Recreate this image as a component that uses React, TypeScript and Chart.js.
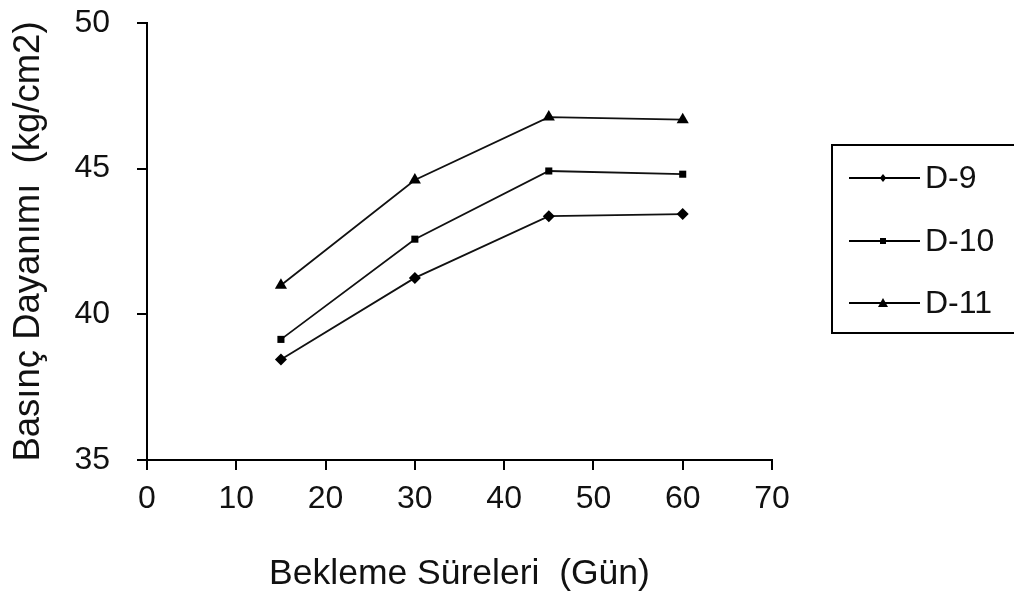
import React, { useEffect, useRef } from "react";
import { Chart, registerables } from "chart.js";

Chart.register(...registerables);

// Curing time (days) and compressive strength values for each mix
const days = [15, 30, 45, 60];
const d9 = [38.45, 41.25, 43.37, 43.44];
const d10 = [39.14, 42.58, 44.92, 44.81];
const d11 = [41.0, 44.61, 46.77, 46.68];
const seriesNames = ["D-9", "D-10", "D-11"];
const seriesShapes = ["rectRot", "rect", "triangle"] as const;
const seriesRadius = [6, 5, 7];

const FONT = "'Liberation Sans', Arial, sans-serif";

function drawShape(ctx: CanvasRenderingContext2D, shape: string, x: number, y: number, r: number) {
  ctx.beginPath();
  if (shape === "rectRot") {
    ctx.moveTo(x, y - r);
    ctx.lineTo(x + r * 0.8, y);
    ctx.lineTo(x, y + r);
    ctx.lineTo(x - r * 0.8, y);
  } else if (shape === "rect") {
    ctx.rect(x - r, y - r, 2 * r, 2 * r);
  } else {
    ctx.moveTo(x, y - r);
    ctx.lineTo(x + r, y + r * 0.8);
    ctx.lineTo(x - r, y + r * 0.8);
  }
  ctx.closePath();
  ctx.fill();
}

// Boxed legend on the right with a line + marker sample per series
const boxLegend = {
  id: "boxLegend",
  afterDraw(chart: Chart) {
    const ctx = chart.ctx;
    ctx.save();
    ctx.strokeStyle = "#000";
    ctx.lineWidth = 2;
    ctx.strokeRect(832, 145, 200, 188);
    const rows = [178, 241, 303];
    const legendR = [4, 3, 5];
    rows.forEach((y, i) => {
      ctx.strokeStyle = "#000";
      ctx.lineWidth = 2;
      ctx.beginPath();
      ctx.moveTo(849, y);
      ctx.lineTo(920, y);
      ctx.stroke();
      ctx.fillStyle = "#000";
      drawShape(ctx, seriesShapes[i], 883, y, legendR[i]);
      ctx.font = `32px ${FONT}`;
      ctx.textAlign = "left";
      ctx.textBaseline = "middle";
      ctx.fillStyle = "#111";
      ctx.fillText(seriesNames[i], 925, y + 1);
    });
    ctx.restore();
  },
};

export default function App() {
  const canvasRef = useRef<HTMLCanvasElement | null>(null);

  useEffect(() => {
    document.body.style.margin = "0";
    const canvas = canvasRef.current;
    if (!canvas) return;
    const values = [d9, d10, d11];
    const chart = new Chart(canvas, {
      type: "line",
      data: {
        datasets: values.map((vals, i) => ({
          label: seriesNames[i],
          data: days.map((d, j) => ({ x: d, y: vals[j] })),
          borderColor: "#111",
          borderWidth: 1.8,
          backgroundColor: "#000",
          pointBackgroundColor: "#000",
          pointBorderColor: "#000",
          pointBorderWidth: 0,
          pointStyle: seriesShapes[i],
          pointRadius: seriesRadius[i],
          tension: 0,
          fill: false,
        })),
      },
      options: {
        responsive: false,
        animation: false,
        events: [],
        layout: { padding: { top: 23, right: 242, left: 0, bottom: 0 } },
        plugins: {
          legend: { display: false },
          tooltip: { enabled: false },
        },
        scales: {
          x: {
            type: "linear",
            min: 0,
            max: 70,
            afterFit: (scale: any) => {
              scale.height = 141;
            },
            ticks: {
              stepSize: 10,
              color: "#111",
              padding: 10,
              font: { family: FONT, size: 32 },
            },
            grid: {
              display: true,
              drawOnChartArea: false,
              drawTicks: true,
              tickLength: 10,
              color: "#000",
              lineWidth: 2,
            },
            border: { display: true, color: "#000", width: 2 },
            title: {
              display: true,
              text: "Bekleme Süreleri  (Gün)",
              color: "#111",
              font: { family: FONT, size: 35.5 },
              padding: { top: 0, bottom: 5 },
            },
          },
          y: {
            type: "linear",
            min: 35,
            max: 50,
            afterFit: (scale: any) => {
              scale.width = 147;
              scale.paddingTop = 0;
              scale.paddingBottom = 0;
            },
            ticks: {
              stepSize: 5,
              color: "#111",
              padding: 27,
              font: { family: FONT, size: 32 },
            },
            grid: {
              display: true,
              drawOnChartArea: false,
              drawTicks: true,
              tickLength: 10,
              color: "#000",
              lineWidth: 2,
            },
            border: { display: true, color: "#000", width: 2 },
            title: {
              display: true,
              text: "Basınç Dayanımı  (kg/cm2)",
              color: "#111",
              font: { family: FONT, size: 36.5 },
              padding: { top: 7, bottom: 0 },
            },
          },
        },
      },
      plugins: [boxLegend],
    });
    return () => chart.destroy();
  }, []);

  return (
    <div style={{ width: 1014, height: 601, background: "#fff" }}>
      <canvas ref={canvasRef} width={1014} height={601} />
    </div>
  );
}
